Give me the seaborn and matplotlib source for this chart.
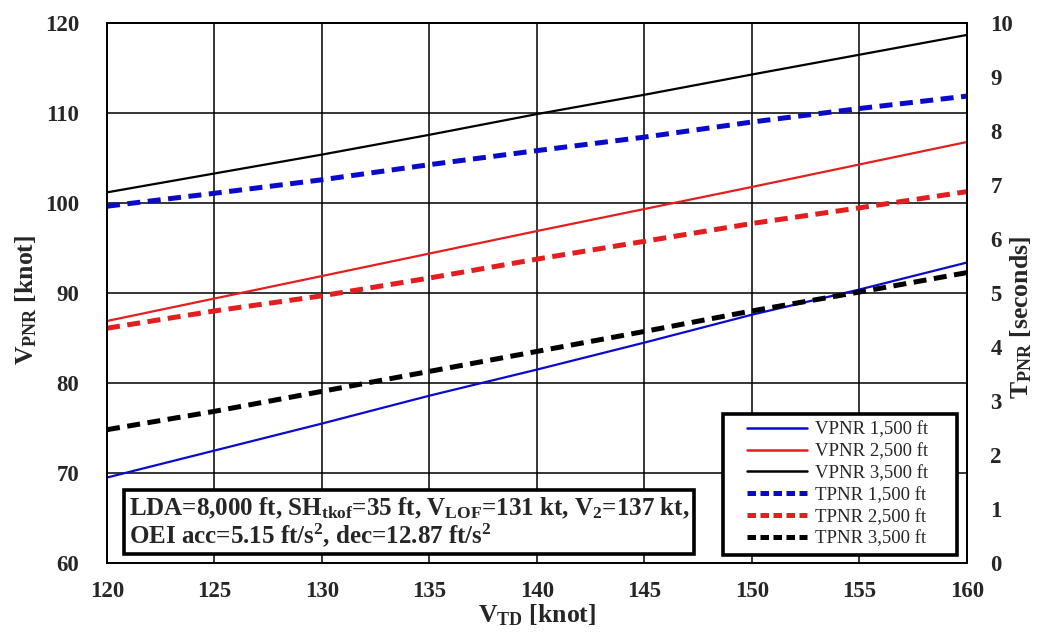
import matplotlib
matplotlib.use("Agg")
import matplotlib.pyplot as plt
import seaborn as sns
import pandas as pd
from matplotlib.lines import Line2D
from matplotlib.patches import Rectangle

# ---- data ----
v_td = [120, 125, 130, 135, 140, 145, 150, 155, 160]
vpnr_1500 = [69.5, 72.5, 75.5, 78.6, 81.5, 84.5, 87.6, 90.4, 93.4]
vpnr_2500 = [86.9, 89.4, 91.9, 94.4, 96.9, 99.35, 101.8, 104.3, 106.8]
vpnr_3500 = [101.2, 103.3, 105.4, 107.6, 109.9, 112.05, 114.3, 116.5, 118.7]
tpnr_1500 = [6.61, 6.85, 7.10, 7.38, 7.64, 7.89, 8.17, 8.42, 8.65]
tpnr_2500 = [4.35, 4.67, 4.95, 5.28, 5.63, 5.96, 6.29, 6.58, 6.88]
tpnr_3500 = [2.47, 2.81, 3.18, 3.55, 3.92, 4.29, 4.67, 5.02, 5.38]
x_ticks = [120, 125, 130, 135, 140, 145, 150, 155, 160]
y_left_ticks = [60, 70, 80, 90, 100, 110, 120]
y_right_ticks = list(range(0, 11))

sns.set_theme(style="white")
plt.rcParams['font.family'] = ['Liberation Serif', 'DejaVu Serif']
plt.rcParams['mathtext.fontset'] = 'custom'
plt.rcParams['mathtext.rm'] = 'Liberation Serif:bold'
plt.rcParams['mathtext.bf'] = 'Liberation Serif:bold'
plt.rcParams['mathtext.it'] = 'Liberation Serif:bold'

BLUE = "#0a0acc"
RED = "#e41e1e"
BLACK = "#000000"

fig = plt.figure(figsize=(10.41, 6.35), dpi=100)
ax = fig.add_axes([0.1028, 0.1134, 0.826, 0.850])
ax2 = ax.twinx()

df_v = pd.DataFrame({"x": v_td * 3,
                     "y": vpnr_1500 + vpnr_2500 + vpnr_3500,
                     "s": ["VPNR 1,500 ft"] * 9 + ["VPNR 2,500 ft"] * 9 + ["VPNR 3,500 ft"] * 9})
df_t = pd.DataFrame({"x": v_td * 3,
                     "y": tpnr_1500 + tpnr_2500 + tpnr_3500,
                     "s": ["TPNR 1,500 ft"] * 9 + ["TPNR 2,500 ft"] * 9 + ["TPNR 3,500 ft"] * 9})

sns.lineplot(data=df_v, x="x", y="y", hue="s",
             palette={"VPNR 1,500 ft": BLUE, "VPNR 2,500 ft": RED, "VPNR 3,500 ft": BLACK},
             linewidth=1.6, ax=ax, legend=False)
sns.lineplot(data=df_t, x="x", y="y", hue="s",
             palette={"TPNR 1,500 ft": BLUE, "TPNR 2,500 ft": RED, "TPNR 3,500 ft": BLACK},
             linewidth=3.6, ax=ax2, legend=False)
for ln in ax2.get_lines():
    ln.set_dashes((2.6, 1.5))

ax.set_xlim(120, 160)
ax.set_ylim(60, 120)
ax2.set_ylim(0, 10)
ax.set_xticks(x_ticks)
ax.set_yticks(y_left_ticks)
ax2.set_yticks(y_right_ticks)

ax.grid(True, color="black", linewidth=1.1)
ax2.grid(False)
for a in (ax, ax2):
    for sp in a.spines.values():
        sp.set_color("black")
        sp.set_linewidth(1.3)
    a.tick_params(length=0, labelsize=16.5)
    for lab in a.get_xticklabels() + a.get_yticklabels():
        lab.set_fontweight("bold")
ax.tick_params(axis="y", pad=20)
ax.tick_params(axis="x", pad=13)
ax2.tick_params(axis="y", pad=17)

ax.set_xlabel(r"V$_{\mathrm{TD}}$ [knot]", fontsize=18.5, fontweight="bold", labelpad=0)
ax.set_ylabel(r"V$_{\mathrm{PNR}}$ [knot]", fontsize=18.5, fontweight="bold")
ax2.set_ylabel(r"T$_{\mathrm{PNR}}$ [seconds]", fontsize=18.5, fontweight="bold")
ax.yaxis.set_label_coords(-0.079, 0.487)
ax2.yaxis.set_label_coords(1.048, 0.455)

# annotation box
txt = ("LDA=8,000 ft, SH$_{\\mathrm{tkof}}$=35 ft, V$_{\\mathrm{LOF}}$=131 kt, V$_{\\mathrm{2}}$=137 kt,\n"
       "OEI acc=5.15 ft/s$^{\\mathrm{2}}$, dec=12.87 ft/s$^{\\mathrm{2}}$")
ax2.text(0.025, 0.025, txt, transform=ax.transAxes, fontsize=18, fontweight="bold",
         ha="left", va="bottom", linespacing=1.05, zorder=10,
         bbox=dict(boxstyle="square,pad=0.2", facecolor="white", edgecolor="black", linewidth=2.6))

# legend frame drawn separately to match the reference padding
lx0, ly0, lw, lh = 0.716, 0.0148, 0.273, 0.2616
ax2.add_patch(Rectangle((lx0, ly0), lw, lh, transform=ax.transAxes, facecolor="white",
                        edgecolor="black", linewidth=2.6, zorder=15))
handles = [
    Line2D([], [], color=BLUE, lw=1.8, label="VPNR 1,500 ft"),
    Line2D([], [], color=RED, lw=1.8, label="VPNR 2,500 ft"),
    Line2D([], [], color=BLACK, lw=1.8, label="VPNR 3,500 ft"),
    Line2D([], [], color=BLUE, lw=3.6, dashes=(1.7, 0.9), label="TPNR 1,500 ft"),
    Line2D([], [], color=RED, lw=3.6, dashes=(1.7, 0.9), label="TPNR 2,500 ft"),
    Line2D([], [], color=BLACK, lw=3.6, dashes=(1.7, 0.9), label="TPNR 3,500 ft"),
]
leg = ax2.legend(handles=handles, loc="center",
                 bbox_to_anchor=(lx0 + lw / 2 - 0.003, ly0 + lh / 2),
                 fontsize=13.5, frameon=False,
                 borderpad=0.0, labelspacing=0.25, handlelength=3.2, handletextpad=0.45,
                 borderaxespad=0)
leg.set_zorder(20)

fig.savefig("out.png", dpi=100)
